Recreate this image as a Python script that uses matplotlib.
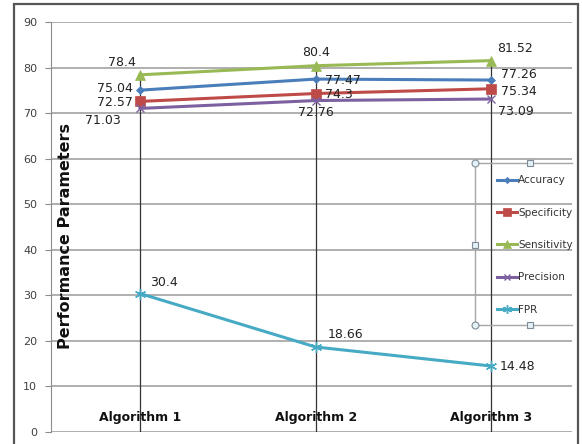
import matplotlib
matplotlib.use('Agg')
import matplotlib.pyplot as plt
from matplotlib.lines import Line2D
from matplotlib.patches import Rectangle

# chart data
algorithms = ['Algorithm 1', 'Algorithm 2', 'Algorithm 3']
accuracy = [75.04, 77.47, 77.26]
specificity = [72.57, 74.3, 75.34]
sensitivity = [78.4, 80.4, 81.52]
precision = [71.03, 72.76, 73.09]
fpr = [30.4, 18.66, 14.48]
yticks = [0, 10, 20, 30, 40, 50, 60, 70, 80, 90]

W, H = 582, 444
fig = plt.figure(figsize=(W/100., H/100.), dpi=100)
ax = fig.add_axes([51/W, 1-432/H, (572-51)/W, (432-22)/H])

x = [1, 2, 3]
series = [
    ('Accuracy', accuracy, '#4A7EBB', 'D', 4),
    ('Specificity', specificity, '#BE4B48', 's', 7),
    ('Sensitivity', sensitivity, '#98B954', '^', 7),
    ('Precision', precision, '#7D60A0', 'x', 6),
    ('FPR', fpr, '#46AAC5', (6, 2, 0), 8),
]

# drop lines from highest point down to axis
tops = [max(v) for v in zip(accuracy, specificity, sensitivity, precision, fpr)]
ax.vlines(x, 0, tops, color='#333333', lw=0.9, zorder=2)

for name, vals, col, mk, ms in series:
    ax.plot(x, vals, color=col, lw=2.2, marker=mk, markersize=ms,
            markeredgewidth=1 if mk in ('x', (6, 2, 0)) else 0.5,
            markeredgecolor=col, label=name, zorder=3)

# data labels (offsets in points)
lab = dict(fontsize=9, color='#222222', textcoords='offset points')
off = {
    'Sensitivity': [((-3, 4), 'right', 'bottom'), ((0, 5), 'center', 'bottom'), ((4, 4), 'left', 'bottom')],
    'Accuracy': [((-5, 1), 'right', 'center'), ((7, -1), 'left', 'center'), ((7, 4), 'left', 'center')],
    'Specificity': [((-5, -1), 'right', 'center'), ((7, -1), 'left', 'center'), ((7, -2), 'left', 'center')],
    'Precision': [((-14, -4), 'right', 'top'), ((0, -4), 'center', 'top'), ((5, -4), 'left', 'top')],
    'FPR': [((7, 3), 'left', 'bottom'), ((9, 4), 'left', 'bottom'), ((6, 0), 'left', 'center')],
}
for name, vals, col, mk, ms in series:
    for i, v in enumerate(vals):
        (dx, dy), ha, va = off[name][i]
        ax.annotate(f'{v:g}', (x[i], v), xytext=(dx, dy), ha=ha, va=va, **lab)

# category labels sit inside the plot
for i, a in enumerate(algorithms):
    ax.text(x[i], 3.2, a, ha='center', va='center', fontsize=9,
            fontweight='bold', color='#111111')

ax.set_xlim(0.493, 3.46)
ax.set_ylim(0, 90)
ax.set_yticks(yticks)
ax.set_xticks([])
ax.yaxis.grid(True, color='#9A9A9A', lw=1.1)
ax.set_axisbelow(True)
for s in ['top', 'right', 'bottom']:
    ax.spines[s].set_visible(False)
ax.spines['left'].set_color('#8C8C8C')
ax.tick_params(axis='y', colors='#8C8C8C', labelcolor='#404040', labelsize=8,
               length=4, pad=6)

fig.text(66/W, 1-236/H, 'Performance Parameters', rotation=90, ha='center',
         va='center', fontsize=11.5, fontweight='bold', color='#111111')

leg = ax.legend(loc='upper left', bbox_to_anchor=((492-51)/521, (432-170)/410),
                frameon=False, fontsize=7.5, handlelength=1.9, handletextpad=0.1,
                labelspacing=2.15, borderpad=0, markerscale=0.8)
for t in leg.get_texts():
    t.set_color('#333333')

# selection frame around the legend
def fx(px):
    return px/W

def fy(py):
    return 1-py/H

gcol = '#A6A6A6'
fig.add_artist(Line2D([fx(475), fx(475)], [fy(163), fy(325)], color=gcol, lw=1))
fig.add_artist(Line2D([fx(475), fx(572)], [fy(163), fy(163)], color=gcol, lw=1))
fig.add_artist(Line2D([fx(475), fx(572)], [fy(325), fy(325)], color=gcol, lw=1))
for px, py, m in [(475, 163, 'o'), (475, 325, 'o'), (530, 163, 's'),
                  (530, 325, 's'), (475, 245, 's')]:
    fig.add_artist(Line2D([fx(px)], [fy(py)], marker=m, markersize=5 if m == 'o' else 4,
                          markerfacecolor='#E4F1F7', markeredgecolor='#7F8C95',
                          markeredgewidth=0.8))

# outer chart border
fig.add_artist(Rectangle((fx(14), fy(446)), fx(578)-fx(14), fy(4)-fy(446),
                         fill=False, edgecolor='#555555', lw=1.6,
                         transform=fig.transFigure))

plt.savefig('out.png', dpi=100)
